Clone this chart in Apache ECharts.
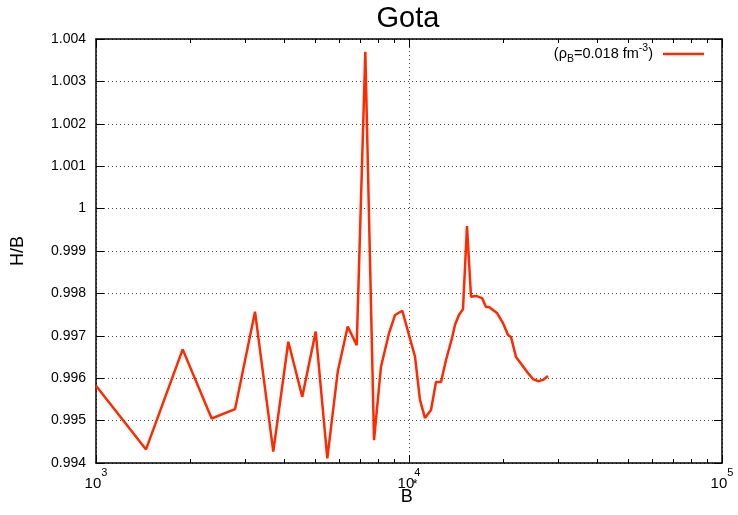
<!DOCTYPE html>
<html>
<head>
<meta charset="utf-8">
<script src="https://cdn.jsdelivr.net/npm/echarts@6/dist/echarts.min.js"></script>
<style>
  html, body { margin: 0; padding: 0; background: #fff; }
  #chart { width: 738px; height: 515px; }
</style>
</head>
<body>
<div id="chart"></div>
<script>
// B* values (log axis) and the H/B ratio at each one
const bStar = [1000, 1445, 1892, 2342, 2781, 3221, 3685, 4116, 4561, 5034,
  5483, 5919, 6371, 6807, 7252, 7732, 8138, 8632, 9022, 9520,
  10452, 10842, 11249, 11757, 12199, 12659, 13131, 13726, 14029, 14443,
  14877, 15321, 15781, 16372, 17116, 17620, 18015, 19102, 19964, 20719,
  21183, 21974, 22962, 23823, 24902, 25835, 26799, 27800];
const hOverB = [0.99582, 0.99432, 0.99668, 0.99505, 0.99527, 0.99757, 0.99427, 0.99686, 0.99556, 0.99710,
  0.99411, 0.99615, 0.99722, 0.99678, 1.00370, 0.99454, 0.99627, 0.99706, 0.99749, 0.99759,
  0.99651, 0.99549, 0.99506, 0.99525, 0.99591, 0.99591, 0.99643, 0.99695, 0.99726, 0.99749,
  0.99763, 0.99959, 0.99792, 0.99794, 0.99789, 0.99768, 0.99768, 0.99754, 0.99730, 0.99702,
  0.99697, 0.99650, 0.99631, 0.99615, 0.99598, 0.99593, 0.99596, 0.99605];

const seriesName = 'rhoB_0018';
const xMin = 1000, xMax = 100000;
const yMin = 0.994, yMax = 1.004, yStep = 0.001;

// minor tick positions at 2..9 times each decade
const minorX = [];
for (let d = xMin; d < xMax; d *= 10) {
  for (let k = 2; k <= 9; k++) minorX.push(d * k);
}

const FONT = 'Liberation Sans, Arial, Helvetica, sans-serif';
const BLACK = '#000';
const LINE_RED = '#ff2a00';

const borderLine = { show: true, onZero: false, lineStyle: { color: BLACK, width: 1.5 } };
const gridDots = { show: true, lineStyle: { color: '#444', width: 1, type: [1, 3] } };
const majorTick = { show: true, inside: true, length: 8, lineStyle: { color: BLACK, width: 1 } };

function logAxis(position, opts) {
  return Object.assign({
    type: 'log', logBase: 10, min: xMin, max: xMax, position: position,
    axisLine: { show: false },
    axisTick: { show: false },
    axisLabel: { show: false },
    splitLine: { show: false }
  }, opts);
}

const chart = echarts.init(document.getElementById('chart'));
chart.setOption({
  animation: false,
  backgroundColor: '#fff',
  textStyle: { fontFamily: FONT },
  title: {
    text: 'Gota',
    left: 403, top: -1, textAlign: 'center',
    textStyle: { fontFamily: FONT, fontSize: 29, fontWeight: 'normal', color: BLACK }
  },
  grid: { left: 96, right: 16, top: 39, bottom: 52, outerBoundsMode: 'none', containLabel: false },
  legend: {
    data: [seriesName],
    right: 29, top: 38,
    align: 'right',
    icon: 'rect',
    itemWidth: 41, itemHeight: 2.5,
    formatter: () => '{t|(ρ}{sub|B}{t|=0.018 fm}{sup|-3}{e|)}',
    textStyle: {
      fontFamily: FONT, fontSize: 14, color: BLACK,
      rich: {
        t: { fontSize: 14.5, lineHeight: 22, color: BLACK, fontFamily: FONT },
        e: { fontSize: 14.5, lineHeight: 22, color: BLACK, fontFamily: FONT, padding: [0, 5, 0, 0] },
        sub: { fontSize: 10.5, lineHeight: 22, verticalAlign: 'bottom', color: BLACK, fontFamily: FONT },
        sup: { fontSize: 10.5, lineHeight: 22, verticalAlign: 'top', color: BLACK, fontFamily: FONT }
      }
    }
  },
  xAxis: [
    logAxis('bottom', {
      axisLine: borderLine,
      axisTick: majorTick,
      axisLabel: {
        show: true, margin: 4.5, color: BLACK,
        formatter: v => '{b|10}{s|' + Math.round(Math.log10(v)) + '}',
        rich: {
          b: { fontSize: 15, lineHeight: 23.5, verticalAlign: 'bottom', color: BLACK, fontFamily: FONT },
          s: { fontSize: 11, lineHeight: 23.5, verticalAlign: 'top', color: BLACK, fontFamily: FONT }
        }
      },
      splitLine: gridDots,
      name: '{b|B}{s|*}',
      nameLocation: 'middle',
      nameGap: 16,
      nameMoveOverlap: false,
      nameTextStyle: {
        rich: {
          b: { fontSize: 18, lineHeight: 27, verticalAlign: 'bottom', color: BLACK, fontFamily: FONT },
          s: { fontSize: 12, lineHeight: 27, verticalAlign: 'top', color: BLACK, fontFamily: FONT }
        }
      }
    }),
    logAxis('bottom', {
      axisTick: { show: true, inside: true, length: 4, customValues: minorX, lineStyle: { color: BLACK, width: 1 } }
    }),
    logAxis('top', {
      axisLine: borderLine,
      axisTick: majorTick
    }),
    logAxis('top', {
      axisTick: { show: true, inside: true, length: 4, customValues: minorX, lineStyle: { color: BLACK, width: 1 } }
    })
  ],
  yAxis: [
    {
      type: 'value', min: yMin, max: yMax, interval: yStep, position: 'left',
      axisLine: borderLine,
      axisTick: majorTick,
      axisLabel: {
        margin: 10, color: BLACK, fontSize: 14, fontFamily: FONT,
        formatter: v => String(Number(v.toFixed(3)))
      },
      splitLine: gridDots,
      name: 'H/B',
      nameLocation: 'middle',
      nameGap: 69,
      nameMoveOverlap: false,
      nameRotate: 90,
      nameTextStyle: { fontSize: 18, color: BLACK, fontFamily: FONT }
    },
    {
      type: 'value', min: yMin, max: yMax, interval: yStep, position: 'right',
      axisLine: borderLine,
      axisTick: majorTick,
      axisLabel: { show: false },
      splitLine: { show: false }
    }
  ],
  series: [{
    name: seriesName,
    type: 'line',
    xAxisIndex: 0,
    yAxisIndex: 0,
    data: bStar.map((b, i) => [b, hOverB[i]]),
    showSymbol: false,
    symbol: 'none',
    lineStyle: { color: LINE_RED, width: 2.5 },
    itemStyle: { color: LINE_RED },
    z: 5
  }]
});
</script>
</body>
</html>
